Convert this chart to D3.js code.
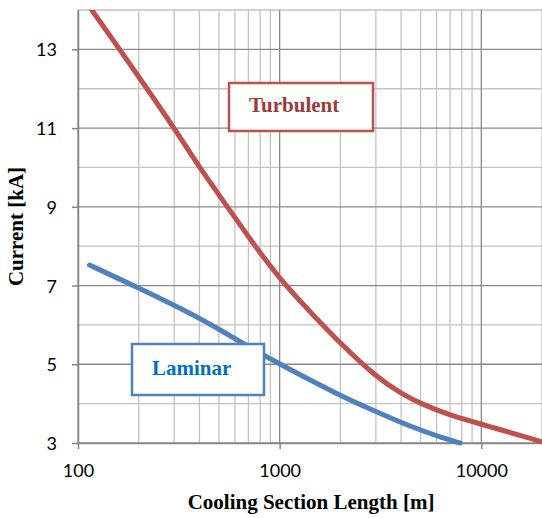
<!DOCTYPE html>
<html>
<head>
<meta charset="utf-8">
<script src="https://cdn.jsdelivr.net/npm/d3@7"></script>
<style>
  body { margin: 0; background: #ffffff; }
  .tickText { font: 18px Lato, 'Liberation Sans', sans-serif; fill: #000000; }
  .axisTitle { font: bold 21px 'Liberation Serif', 'Times New Roman', serif; fill: #000000; }
  .boxText { font: bold 21px 'Liberation Serif', 'Times New Roman', serif; }
</style>
</head>
<body>
<script>
// Data
const turbulentLength = [117, 161, 220, 300, 400, 551, 755, 1064, 1500, 2000, 3000, 4000, 5000, 7000, 10000, 20000];
const turbulentCurrent = [14, 13, 12, 11, 10, 9, 8, 7, 6.2, 5.53, 4.68, 4.26, 4.0, 3.7, 3.48, 3.03];

const laminarLength = [114, 200, 300, 400, 500, 700, 1000, 2000, 3000, 4000, 5000, 6000, 7850];
const laminarCurrent = [7.52, 6.94, 6.5, 6.17, 5.89, 5.45, 5.0, 4.2, 3.8, 3.52, 3.33, 3.18, 3.0];

const yTickValues = [3, 5, 7, 9, 11, 13];
const xTickValues = [100, 1000, 10000];

const svgWidth = 542;
const svgHeight = 518;
const plotLeft = 78;
const plotRight = 542;
const plotTop = 10;
const plotBottom = 443;

const svg = d3
  .select("body")
  .append("svg")
  .attr("width", svgWidth)
  .attr("height", svgHeight)
  .attr("viewBox", `0 0 ${svgWidth} ${svgHeight}`);

svg
  .append("defs")
  .append("clipPath")
  .attr("id", "plotClip")
  .append("rect")
  .attr("x", plotLeft)
  .attr("y", plotTop)
  .attr("width", plotRight - plotLeft)
  .attr("height", plotBottom - plotTop + 4);

// Scales

const xScale = d3.scaleLog().domain([100, 20000]).range([plotLeft, plotRight]);
const yScale = d3.scaleLinear().domain([3, 14]).range([plotBottom, plotTop]);

// Grid

const minorX = [];
[100, 1000, 10000].forEach((decade) => {
  for (let k = 2; k <= 9; k++) {
    if (decade * k <= 20000) minorX.push(decade * k);
  }
});
const minorY = d3.range(4, 15, 2);

const grid = svg.append("g");

const drawVertical = (values, color) =>
  grid
    .selectAll()
    .data(values)
    .enter()
    .append("line")
    .attr("x1", (d) => xScale(d))
    .attr("x2", (d) => xScale(d))
    .attr("y1", plotTop)
    .attr("y2", plotBottom)
    .attr("stroke", color)
    .attr("stroke-width", 1.3);

const drawHorizontal = (values, color) =>
  grid
    .selectAll()
    .data(values)
    .enter()
    .append("line")
    .attr("x1", plotLeft)
    .attr("x2", plotRight)
    .attr("y1", (d) => yScale(d))
    .attr("y2", (d) => yScale(d))
    .attr("stroke", color)
    .attr("stroke-width", 1.3);

drawVertical(minorX, "#c3c3c3");
drawHorizontal(minorY, "#c3c3c3");
drawVertical(xTickValues, "#8a8a8a");
drawHorizontal(yTickValues, "#8a8a8a");

// Axes

const yAxis = svg
  .append("g")
  .attr("transform", `translate(${plotLeft},0)`)
  .call(d3.axisLeft(yScale).tickValues(yTickValues).tickSize(6).tickPadding(14).tickSizeOuter(0));

const xAxis = svg
  .append("g")
  .attr("transform", `translate(0,${plotBottom})`)
  .call(d3.axisBottom(xScale).tickValues(xTickValues).tickFormat(d3.format("d")).tickSize(6).tickPadding(14).tickSizeOuter(0));

[yAxis, xAxis].forEach((axis) => {
  axis.selectAll(".domain").attr("stroke", "#868686").attr("stroke-width", 1.5);
  axis.selectAll(".tick line").attr("stroke", "#868686").attr("stroke-width", 1.5);
  axis.selectAll(".tick text").attr("class", "tickText");
});
yAxis.selectAll(".tick text").attr("x", -21).attr("dy", "0.36em");
xAxis.selectAll(".tick text").attr("y", 20).attr("dy", "0.78em");

// Curves

const line = d3
  .line()
  .x((d) => xScale(d[0]))
  .y((d) => yScale(d[1]))
  .curve(d3.curveBasis);

const curves = svg.append("g").attr("clip-path", "url(#plotClip)");

curves
  .append("path")
  .datum(d3.zip(turbulentLength, turbulentCurrent))
  .attr("d", line)
  .attr("fill", "none")
  .attr("stroke", "#c0504d")
  .attr("stroke-width", 5)
  .attr("stroke-linecap", "round");

curves
  .append("path")
  .datum(d3.zip(laminarLength, laminarCurrent))
  .attr("d", line)
  .attr("fill", "none")
  .attr("stroke", "#4f81bd")
  .attr("stroke-width", 5)
  .attr("stroke-linecap", "round");

// Labels in boxes

const drawBox = (x, y, w, h, stroke, text, textFill) => {
  svg
    .append("rect")
    .attr("x", x)
    .attr("y", y)
    .attr("width", w)
    .attr("height", h)
    .attr("fill", "#ffffff")
    .attr("stroke", stroke)
    .attr("stroke-width", 2.5);
  svg
    .append("text")
    .attr("class", "boxText")
    .attr("x", x + 20)
    .attr("y", y + h / 2 + 5)
    .attr("fill", textFill)
    .text(text);
};

drawBox(229, 83, 144, 48, "#c0504d", "Turbulent", "#9c3b38");
drawBox(132, 344, 132, 51, "#4f81bd", "Laminar", "#0070c0");

// Axis titles

svg
  .append("text")
  .attr("class", "axisTitle")
  .attr("x", (plotLeft + plotRight) / 2 + 1)
  .attr("y", 509)
  .attr("text-anchor", "middle")
  .text("Cooling Section Length [m]");

svg
  .append("text")
  .attr("class", "axisTitle")
  .attr("transform", `translate(23, ${(plotTop + plotBottom) / 2}) rotate(-90)`)
  .attr("text-anchor", "middle")
  .text("Current [kA]");
</script>
</body>
</html>
